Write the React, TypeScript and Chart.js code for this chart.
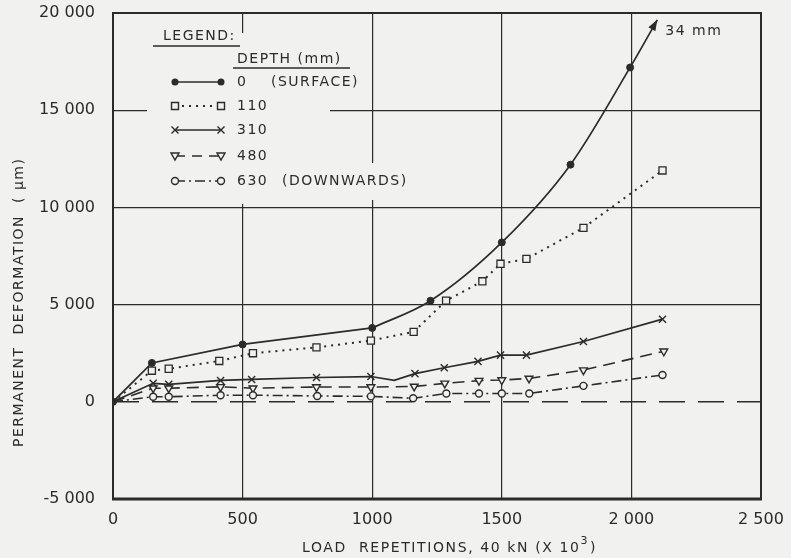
import React, { useEffect, useRef } from 'react';
import { Chart, registerables } from 'chart.js';

Chart.register(...registerables);

const PAPER = '#f1f1ef';
const INK = '#2b2b2b';
const FONT = 'DejaVu Sans';

// ---- axes ----
const xMin = 0;
const xMax = 2500;
const xStep = 500;
const xTickLabels = ['0', '500', '1000', '1500', '2 000', '2 500'];
const yMin = -5000;
const yMax = 20000;
const yStep = 5000;
const yTickLabels = ['-5 000', '0', '5 000', '10 000', '15 000', '20 000'];

const xTitle = 'LOAD  REPETITIONS, 40 kN (X 10';
const xTitleSup = '3';
const xTitleEnd = ')';
const yTitle = 'PERMANENT  DEFORMATION  ( μm)';

// ---- series (load repetitions x10^3, deformation µm) ----
const surfaceX = [0, 150, 500, 1000, 1225, 1500, 1765, 1995];
const surfaceY = [0, 2000, 2950, 3800, 5200, 8200, 12200, 17200];
const surfaceCurveFrom = 3; // the curve bends smoothly from this point on
const surfaceArrowTip = [2100, 19650];
const surfaceNote = '34 mm';

const d110X = [0, 150, 215, 410, 540, 785, 995, 1160, 1285, 1425, 1495, 1595, 1815, 2120];
const d110Y = [0, 1600, 1700, 2100, 2500, 2800, 3150, 3600, 5200, 6200, 7100, 7350, 8950, 11900];

const d310X = [0, 155, 215, 415, 535, 785, 995, 1085, 1165, 1278, 1408, 1495, 1595, 1815, 2120];
const d310Y = [0, 950, 900, 1100, 1150, 1250, 1300, 1100, 1450, 1750, 2080, 2400, 2400, 3100, 4250];
const d310Hidden = [0, 7]; // vertices drawn without a marker

const d480X = [0, 155, 215, 415, 540, 785, 995, 1162, 1280, 1412, 1500, 1605, 1815, 2125];
const d480Y = [0, 700, 700, 770, 700, 760, 760, 790, 950, 1090, 1120, 1200, 1630, 2600];

const d630X = [0, 155, 215, 415, 540, 788, 995, 1158, 1286, 1412, 1500, 1606, 1815, 2120];
const d630Y = [0, 260, 260, 340, 340, 300, 280, 180, 430, 430, 430, 430, 820, 1380];

const baselineX = [0, 2500];
const baselineY = [0, 0];

// ---- legend ----
const legendTitle = 'LEGEND:';
const legendSubtitle = 'DEPTH (mm)';
const legendDepths = ['0', '110', '310', '480', '630'];
const legendNotes = ['(SURFACE)', '', '', '', '(DOWNWARDS)'];
const legendStyles = ['dot', 'square', 'cross', 'tri', 'ring'];
const legendDashes = [[], [2, 5], [], [10, 7], [10, 4, 2, 4]];

const pts = (xs: number[], ys: number[]) => xs.map((x, i) => ({ x, y: ys[i] }));

function drawMarker(ctx: CanvasRenderingContext2D, style: string, x: number, y: number) {
  ctx.save();
  ctx.setLineDash([]);
  ctx.strokeStyle = INK;
  ctx.lineWidth = 1.4;
  ctx.beginPath();
  if (style === 'dot') {
    ctx.arc(x, y, 3.5, 0, Math.PI * 2);
    ctx.fillStyle = INK;
    ctx.fill();
  } else if (style === 'square') {
    ctx.rect(x - 3.5, y - 3.5, 7, 7);
    ctx.fillStyle = PAPER;
    ctx.fill();
    ctx.stroke();
  } else if (style === 'cross') {
    ctx.moveTo(x - 3.5, y - 3.5);
    ctx.lineTo(x + 3.5, y + 3.5);
    ctx.moveTo(x - 3.5, y + 3.5);
    ctx.lineTo(x + 3.5, y - 3.5);
    ctx.stroke();
  } else if (style === 'tri') {
    ctx.moveTo(x - 4, y - 3);
    ctx.lineTo(x + 4, y - 3);
    ctx.lineTo(x, y + 4);
    ctx.closePath();
    ctx.fillStyle = PAPER;
    ctx.fill();
    ctx.stroke();
  } else {
    ctx.arc(x, y, 3.5, 0, Math.PI * 2);
    ctx.fillStyle = PAPER;
    ctx.fill();
    ctx.stroke();
  }
  ctx.restore();
}

const paperPlugin = {
  id: 'paper',
  beforeDraw(chart: any) {
    const ctx = chart.ctx;
    ctx.save();
    ctx.fillStyle = PAPER;
    ctx.fillRect(0, 0, chart.width, chart.height);
    ctx.restore();
  },
};

const legendPlugin = {
  id: 'drawnLegend',
  beforeDatasetsDraw(chart: any) {
    const ctx = chart.ctx;
    ctx.save();
    // blank out grid behind the legend
    ctx.fillStyle = PAPER;
    ctx.fillRect(147, 33, 183, 171);
    ctx.fillRect(230, 163, 180, 37);

    ctx.fillStyle = INK;
    ctx.strokeStyle = INK;
    ctx.font = `14px "${FONT}"`;
    (ctx as any).letterSpacing = '1.5px';
    ctx.textBaseline = 'middle';
    ctx.textAlign = 'left';
    ctx.fillText(legendTitle, 163, 36);
    ctx.fillText(legendSubtitle, 237, 59);
    ctx.lineWidth = 1.3;
    ctx.beginPath();
    ctx.moveTo(153, 46);
    ctx.lineTo(240, 46);
    ctx.moveTo(233, 68);
    ctx.lineTo(350, 68);
    ctx.stroke();

    const rows = [82, 106, 130, 156, 181];
    legendDepths.forEach((d, i) => {
      const y = rows[i];
      ctx.save();
      ctx.lineWidth = i === 1 ? 2 : 1.6;
      ctx.setLineDash(legendDashes[i]);
      ctx.beginPath();
      ctx.moveTo(175, y);
      ctx.lineTo(221, y);
      ctx.stroke();
      ctx.restore();
      drawMarker(ctx, legendStyles[i], 175, y);
      drawMarker(ctx, legendStyles[i], 221, y);
      ctx.fillText(d, 237, y);
      if (legendNotes[i]) ctx.fillText(legendNotes[i], i === 0 ? 271 : 282, y);
    });
    ctx.restore();
  },
  afterDraw(chart: any) {
    const ctx = chart.ctx;
    const xs = chart.scales.x;
    const ys = chart.scales.y;
    const a = chart.chartArea;
    ctx.save();
    // frame
    ctx.strokeStyle = INK;
    ctx.lineWidth = 2;
    ctx.strokeRect(a.left, a.top, a.right - a.left, a.bottom - a.top);
    ctx.lineWidth = 3;
    ctx.beginPath();
    ctx.moveTo(a.left - 1, a.bottom);
    ctx.lineTo(a.right + 1, a.bottom);
    ctx.stroke();

    // arrow head on surface curve
    const n = surfaceX.length - 1;
    const x0 = xs.getPixelForValue(surfaceX[n]);
    const y0 = ys.getPixelForValue(surfaceY[n]);
    const x1 = xs.getPixelForValue(surfaceArrowTip[0]);
    const y1 = ys.getPixelForValue(surfaceArrowTip[1]);
    const ang = Math.atan2(y1 - y0, x1 - x0);
    const L = 11;
    const W = 4;
    ctx.fillStyle = INK;
    ctx.beginPath();
    ctx.moveTo(x1, y1);
    ctx.lineTo(x1 - L * Math.cos(ang) + W * Math.sin(ang), y1 - L * Math.sin(ang) - W * Math.cos(ang));
    ctx.lineTo(x1 - L * Math.cos(ang) - W * Math.sin(ang), y1 - L * Math.sin(ang) + W * Math.cos(ang));
    ctx.closePath();
    ctx.fill();

    ctx.font = `14px "${FONT}"`;
    (ctx as any).letterSpacing = '1.5px';
    ctx.textBaseline = 'alphabetic';
    ctx.textAlign = 'left';
    ctx.fillText(surfaceNote, x1 + 8, y1 + 15);

    // x title
    ctx.font = `14px "${FONT}"`;
    (ctx as any).letterSpacing = '1.6px';
    const tx = 302;
    const ty = 552;
    ctx.fillText(xTitle, tx, ty);
    const w1 = ctx.measureText(xTitle).width;
    ctx.font = `11px "${FONT}"`;
    ctx.fillText(xTitleSup, tx + w1, ty - 8);
    const w2 = ctx.measureText(xTitleSup).width;
    ctx.font = `14px "${FONT}"`;
    ctx.fillText(xTitleEnd, tx + w1 + w2 + 1, ty);

    // y title
    ctx.translate(23, 447);
    ctx.rotate(-Math.PI / 2);
    (ctx as any).letterSpacing = '1.5px';
    ctx.fillText(yTitle, 0, 0);
    ctx.restore();
  },
};

const noPad = (s: any) => {
  s.paddingTop = 0;
  s.paddingBottom = 0;
  s.paddingLeft = 0;
  s.paddingRight = 0;
};

export default function App() {
  const ref = useRef<HTMLCanvasElement | null>(null);

  useEffect(() => {
    if (!ref.current) return;
    const common = {
      borderColor: INK,
      pointBorderColor: INK,
      pointBackgroundColor: PAPER,
      fill: false,
      tension: 0,
    };
    const surfacePts = pts(surfaceX, surfaceY);
    const chart = new Chart(ref.current, {
      type: 'line',
      data: {
        datasets: [
          {
            ...common,
            label: 'baseline',
            data: pts(baselineX, baselineY),
            borderWidth: 1.5,
            borderDash: [26, 13],
            pointRadius: 0,
          },
          {
            ...common,
            label: legendDepths[4],
            data: pts(d630X, d630Y),
            borderWidth: 1.6,
            borderDash: [10, 4, 2, 4],
            pointStyle: 'circle',
            pointRadius: (c: any) => (c.dataIndex === 0 ? 0 : 3.5),
            pointBorderWidth: 1.4,
          },
          {
            ...common,
            label: legendDepths[3],
            data: pts(d480X, d480Y),
            borderWidth: 1.6,
            borderDash: [12, 7],
            pointStyle: 'triangle',
            pointRotation: 180,
            pointRadius: (c: any) => (c.dataIndex === 0 ? 0 : 4.5),
            pointBorderWidth: 1.4,
          },
          {
            ...common,
            label: legendDepths[2],
            data: pts(d310X, d310Y),
            borderWidth: 1.7,
            pointStyle: 'crossRot',
            pointRadius: (c: any) => (d310Hidden.includes(c.dataIndex) ? 0 : 5),
            pointBorderWidth: 1.4,
          },
          {
            ...common,
            label: legendDepths[1],
            data: pts(d110X, d110Y),
            borderWidth: 2,
            borderDash: [2, 5],
            pointStyle: 'rect',
            pointRadius: (c: any) => (c.dataIndex === 0 ? 0 : 5),
            pointBorderWidth: 1.3,
          },
          {
            ...common,
            label: legendDepths[0] + ' curve',
            data: [...surfacePts.slice(surfaceCurveFrom), { x: surfaceArrowTip[0], y: surfaceArrowTip[1] }],
            borderWidth: 1.7,
            cubicInterpolationMode: 'monotone',
            pointRadius: 0,
          },
          {
            ...common,
            label: legendDepths[0],
            data: surfacePts.slice(0, surfaceCurveFrom + 1),
            borderWidth: 1.7,
            pointRadius: 0,
          },
          {
            ...common,
            label: legendDepths[0] + ' points',
            data: surfacePts,
            showLine: false,
            pointStyle: 'circle',
            pointBackgroundColor: INK,
            pointRadius: 3.5,
          },
        ],
      },
      options: {
        animation: false,
        responsive: false,
        devicePixelRatio: 1,
        layout: { padding: { top: 13, right: 30, left: 0, bottom: 0 } },
        plugins: {
          legend: { display: false },
          tooltip: { enabled: false },
        },
        scales: {
          x: {
            type: 'linear',
            min: xMin,
            max: xMax,
            afterFit: (s: any) => {
              s.height = 59;
              noPad(s);
            },
            ticks: {
              stepSize: xStep,
              padding: 11,
              maxRotation: 0,
              color: INK,
              font: { family: FONT, size: 16 },
              callback: (_v: any, i: number) => xTickLabels[i],
            },
            grid: {
              drawTicks: false,
              color: INK,
              lineWidth: 1.2,
            },
            border: { display: false },
          },
          y: {
            type: 'linear',
            min: yMin,
            max: yMax,
            afterFit: (s: any) => {
              s.width = 113;
              noPad(s);
            },
            ticks: {
              stepSize: yStep,
              padding: 18,
              color: INK,
              font: { family: FONT, size: 16 },
              callback: (_v: any, i: number) => yTickLabels[i],
            },
            grid: {
              drawTicks: false,
              color: (c: any) => (c.tick && c.tick.value === 0 ? 'rgba(0,0,0,0)' : INK),
              lineWidth: 1.2,
            },
            border: { display: false },
          },
        },
      },
      plugins: [paperPlugin, legendPlugin],
    } as any);
    return () => chart.destroy();
  }, []);

  return (
    <div style={{ position: 'absolute', left: 0, top: 0, width: 791, height: 558, background: PAPER }}>
      <canvas ref={ref} width={791} height={558} style={{ display: 'block' }} />
    </div>
  );
}
